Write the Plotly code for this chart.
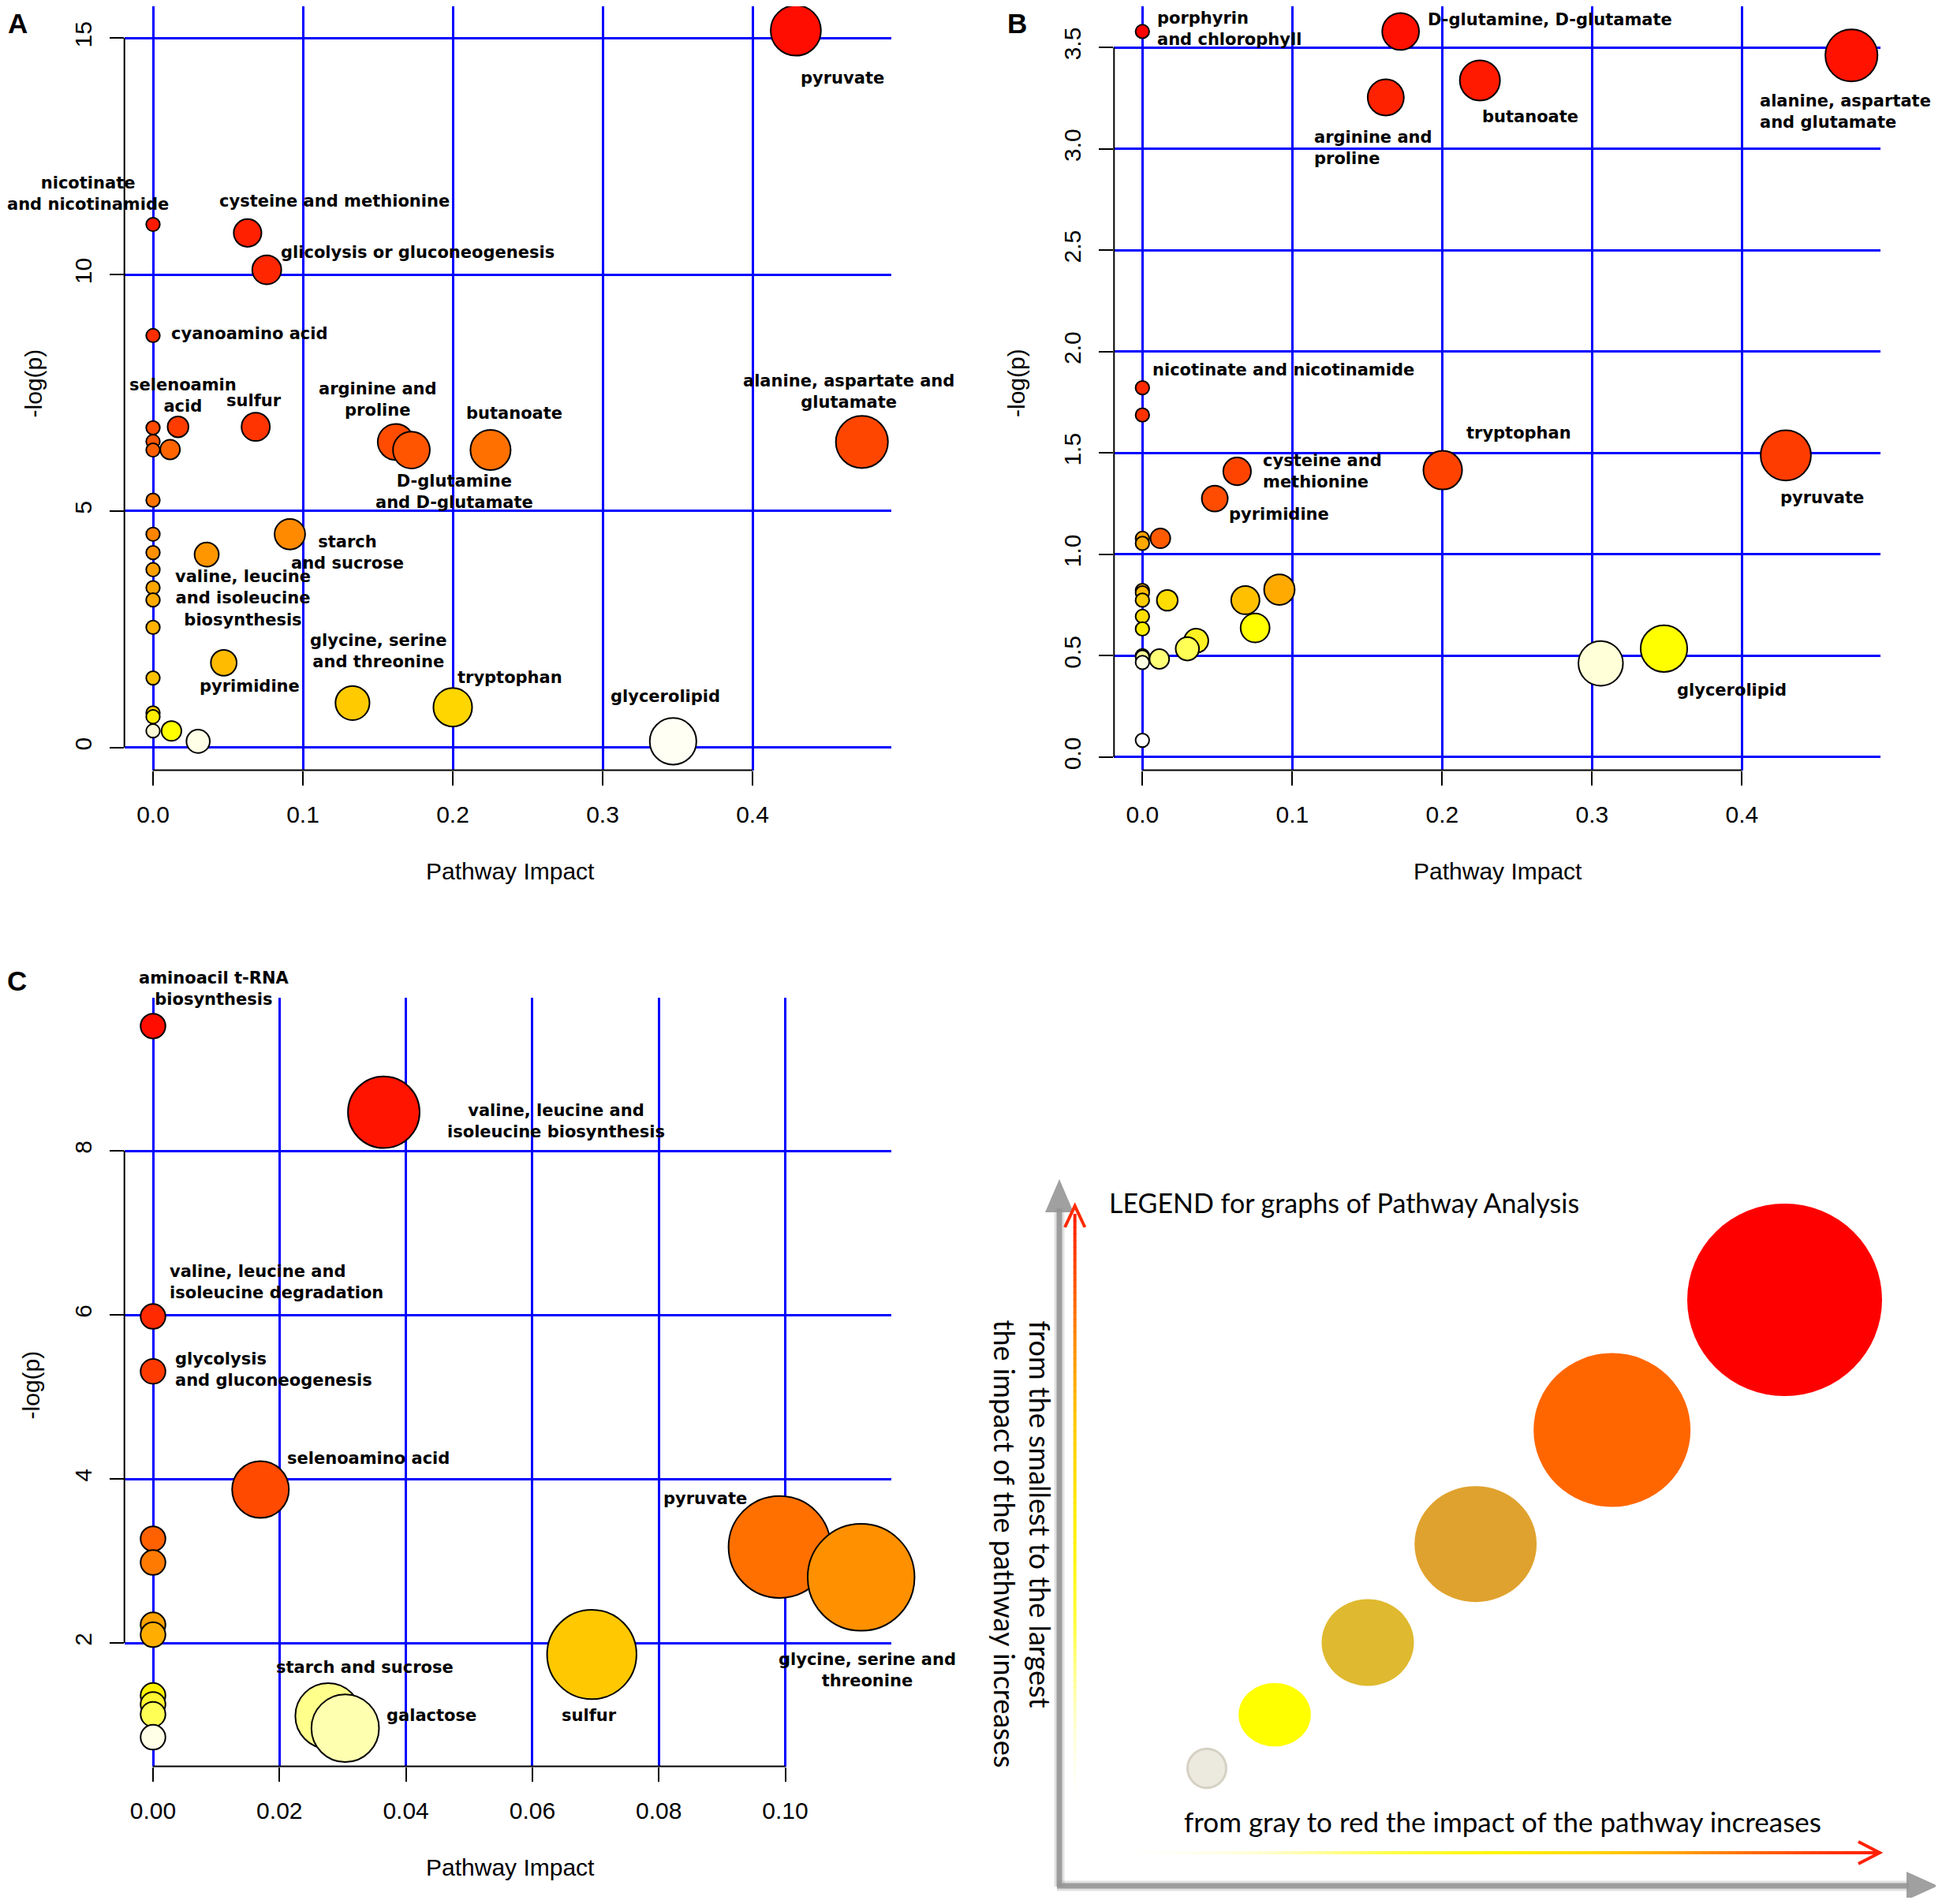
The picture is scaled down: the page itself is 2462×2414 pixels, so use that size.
import numpy as np
import plotly.graph_objects as go

W, H = 2462, 2414          # browser window
OFF = 8                    # default page body margin
FW, FH = W - OFF, H - 2 * OFF

# ---------------- Panel A data ----------------
A_impact = [0.4289, 0.0, 0.0631, 0.0759, 0.0, 0.0685, 0.0167, 0.0, 0.0, 0.1620, 0.4730,
            0.0, 0.0114, 0.1724, 0.2252, 0.0, 0.0, 0.0913, 0.0, 0.0358, 0.0, 0.0, 0.0, 0.0,
            0.0472, 0.0, 0.1331, 0.2000, 0.0, 0.0, 0.0, 0.0123, 0.0301, 0.3470]
A_logp = [15.16, 11.06, 10.88, 10.10, 8.71, 6.78, 6.78, 6.76, 6.47, 6.46, 6.46,
          6.29, 6.30, 6.29, 6.29, 5.23, 4.51, 4.51, 4.12, 4.08, 3.76, 3.38, 3.12, 2.54,
          1.79, 1.47, 0.94, 0.85, 0.73, 0.65, 0.35, 0.35, 0.13, 0.13]
A_labels = ["pyruvate", "nicotinate<br>and nicotinamide", "cysteine and methionine",
            "glicolysis or gluconeogenesis", "cyanoamino acid", "selenoamin<br>acid", "sulfur",
            "arginine and<br>proline", "butanoate", "alanine, aspartate and<br>glutamate",
            "D-glutamine<br>and D-glutamate", "starch<br>and sucrose",
            "valine, leucine<br>and isoleucine<br>biosynthesis", "glycine, serine<br>and threonine",
            "pyrimidine", "tryptophan", "glycerolipid"]

# ---------------- Panel B data ----------------
B_impact = [0.0, 0.1723, 0.4731, 0.2252, 0.1624, 0.0, 0.0, 0.4293, 0.2004, 0.0632, 0.0483,
            0.0, 0.0, 0.0120, 0.0914, 0.0, 0.0, 0.0687, 0.0, 0.0166, 0.0, 0.0, 0.0752,
            0.0359, 0.0300, 0.3480, 0.0, 0.0, 0.0113, 0.0, 0.3058, 0.0]
B_logp = [3.578, 3.578, 3.46, 3.337, 3.253, 1.821, 1.687, 1.488, 1.415, 1.409, 1.275,
          1.079, 1.054, 1.079, 0.826, 0.822, 0.81, 0.774, 0.774, 0.773, 0.694, 0.632, 0.637,
          0.574, 0.534, 0.535, 0.50, 0.493, 0.484, 0.467, 0.462, 0.083]
B_labels = ["porphyrin<br>and chlorophyll", "D-glutamine, D-glutamate", "butanoate",
            "alanine, aspartate<br>and glutamate", "arginine and<br>proline",
            "nicotinate and nicotinamide", "tryptophan", "cysteine and<br>methionine",
            "pyrimidine", "pyruvate", "glycerolipid"]

# ---------------- Panel C data ----------------
C_impact = [0.0, 0.0365, 0.0, 0.0, 0.0170, 0.0, 0.0, 0.0991, 0.1120, 0.0, 0.0, 0.0694,
            0.0, 0.0, 0.0, 0.0277, 0.0304, 0.0]
C_logp = [9.52, 8.47, 5.98, 5.31, 3.87, 3.27, 2.98, 3.17, 2.80, 2.22, 2.10, 1.86,
          1.36, 1.25, 1.13, 1.11, 0.96, 0.85]
C_labels = ["aminoacil t-RNA<br>biosynthesis", "valine, leucine and<br>isoleucine biosynthesis",
            "valine, leucine and<br>isoleucine degradation", "glycolysis<br>and gluconeogenesis",
            "selenoamino acid", "pyruvate", "glycine, serine and<br>threonine",
            "starch and sucrose", "galactose", "sulfur"]

# ---------------- tick labels ----------------
AB_xticks = [0.0, 0.1, 0.2, 0.3, 0.4]
AB_xtext = ["0.0", "0.1", "0.2", "0.3", "0.4"]
A_yticks = [0, 5, 10, 15]
A_ytext = ["0", "5", "10", "15"]
B_yticks = [0.0, 0.5, 1.0, 1.5, 2.0, 2.5, 3.0, 3.5]
B_ytext = ["0.0", "0.5", "1.0", "1.5", "2.0", "2.5", "3.0", "3.5"]
C_xticks = [0.0, 0.02, 0.04, 0.06, 0.08, 0.10]
C_xtext = ["0.00", "0.02", "0.04", "0.06", "0.08", "0.10"]
C_yticks = [2, 4, 6, 8]
C_ytext = ["2", "4", "6", "8"]

# ---------------- styles (colours, label placement) ----------------
A_colors = ["#FF0D00", "#FF1A00", "#FF2000", "#FF2600", "#FF2E00", "#FF3400", "#FF3C00", "#FF4A00",
            "#FF5500", "#FF4C00", "#FF4600", "#FF5E00", "#FF6400", "#FF5500", "#FF7000", "#FF7400",
            "#FF8400", "#FF8A00", "#FF9000", "#FF9600", "#FFA000", "#FFA600", "#FFAA00", "#FFB200",
            "#FFBB00", "#FFC200", "#FFCA00", "#FFD600", "#FFCC00", "#FFEE00", "#FFFAD6", "#FFFF00",
            "#FFFFE8", "#FFFFF4"]
B_colors = ["#FF0000", "#FF1000", "#FF1200", "#FF1A00", "#FF2200", "#FF2A00", "#FF3200", "#FF3C00",
            "#FF4200", "#FF4400", "#FF4C00", "#FFA000", "#FFA800", "#FF5A00", "#FFAA00", "#FFB400",
            "#FFBC00", "#FFC000", "#FFCC00", "#FFDD00", "#FFDD00", "#FFEE00", "#FFFF00", "#FFF222",
            "#FFFF55", "#FFFF00", "#FFFF80", "#FFFF99", "#FFFF77", "#FFFFE6", "#FFFFD8", "#FFFFFF"]
C_colors = ["#FF0D00", "#FF1400", "#FF2A00", "#FF3A00", "#FF4A00", "#FF6000", "#FF7A00", "#FF7000",
            "#FF9000", "#FFA200", "#FFAE00", "#FFC800", "#FFF000", "#FFF530", "#FFFF55", "#FFFF8C",
            "#FFFFB0", "#FFFFE8"]

# label placement: (x, y, anchor) in data units of each panel
A_lab_pos = [(0.4598, 14.16, "center"), (-0.0432, 11.71, "center"), (0.1208, 11.55, "center"),
             (0.1765, 10.47, "center"), (0.0643, 8.75, "center"), (0.0202, 7.44, "center"),
             (0.0672, 7.34, "center"), (0.1501, 7.36, "center"), (0.2412, 7.06, "center"),
             (0.4643, 7.53, "center"), (0.2008, 5.40, "center"), (0.1299, 4.13, "center"),
             (0.0598, 3.15, "center"), (0.1505, 2.03, "center"), (0.0643, 1.29, "center"),
             (0.2384, 1.48, "center"), (0.3419, 1.08, "center")]
B_lab_pos = [(0.0095, 3.59, "left"), (0.2719, 3.635, "center"), (0.2587, 3.158, "center"),
             (0.4116, 3.183, "left"), (0.1140, 3.006, "left"), (0.0942, 1.908, "center"),
             (0.2512, 1.597, "center"), (0.0798, 1.409, "left"), (0.0909, 1.199, "center"),
             (0.4537, 1.280, "center"), (0.3930, 0.331, "center")]
C_lab_pos = [(0.00958, 9.978, "center"), (0.0637, 8.358, "center"), (0.00244, 6.396, "left"),
             (0.00332, 5.328, "left"), (0.0340, 4.246, "center"), (0.0873, 3.761, "center"),
             (0.1130, 1.672, "center"), (0.0335, 1.701, "center"), (0.0440, 1.119, "center"),
             (0.0690, 1.119, "center")]

# ---------------- geometry (window pixels) ----------------
# per axis: (pixel, value) of two ticks, and the two plot edges in window pixels
GEOM = {
    "x":  dict(t=((194.0, 0.0), (954.0, 0.4)), e=(157.7, 1130.0)),
    "y":  dict(t=((947.7, 0.0), (48.3, 15.0)), e=(976.5, 4.0)),
    "x2": dict(t=((1448.3, 0.0), (2208.3, 0.4)), e=(1412.3, 2384.3)),
    "y2": dict(t=((959.9, 0.0), (60.0, 3.5)), e=(976.5, 4.0)),
    "x3": dict(t=((194.0, 0.0), (995.5, 0.10)), e=(157.7, 1130.0)),
    "y3": dict(t=((2083.0, 2.0), (1459.0, 8.0)), e=(2239.5, 1265.0)),
}


def axis_geom(name):
    g = GEOM[name]
    (p1, v1), (p2, v2) = g["t"]
    isx = name.startswith("x")
    lo_lim, hi_lim = (OFF, OFF + FW) if isx else (OFF, OFF + FH)
    e0, e1 = [min(max(e, lo_lim), hi_lim) for e in g["e"]]
    val = lambda p: v1 + (p - p1) * (v2 - v1) / (p2 - p1)
    rng = [val(e0), val(e1)]
    if isx:
        dom = [(e0 - OFF) / FW, (e1 - OFF) / FW]
    else:
        dom = [1 - (e0 - OFF) / FH, 1 - (e1 - OFF) / FH]
    ppu = abs((p2 - p1) / (v2 - v1))
    return dom, rng, ppu


BLUE = "#0000FF"
TICKFONT = dict(family="Liberation Sans", size=30, color="black")
LABFONT = dict(family="DejaVu Sans", size=21, color="black", weight="bold")

fig = go.Figure()

panels = [
    dict(x=A_impact, y=A_logp, c=A_colors, xa="x", ya="y", dmin=17.3, dspan=48.8),
    dict(x=B_impact, y=B_logp, c=B_colors, xa="x2", ya="y2", dmin=17.3, dspan=48.8),
    dict(x=C_impact, y=C_logp, c=C_colors, xa="x3", ya="y3", dmin=31.5, dspan=104.0),
]
for p in panels:
    imp = np.array(p["x"], dtype=float)
    s = np.sqrt(imp / imp.max())
    fig.add_trace(go.Scatter(
        x=p["x"], y=p["y"], mode="markers", xaxis=p["xa"], yaxis=p["ya"],
        marker=dict(size=p["dmin"] + p["dspan"] * s, sizemode="diameter", color=p["c"],
                    opacity=1, line=dict(color="black", width=2)),
        cliponaxis=False, hoverinfo="skip", showlegend=False))


def xaxis(name, tv, tt, anchor):
    dom, rng, _ = axis_geom(name)
    return dict(domain=dom, range=rng, tickvals=tv, ticktext=tt, showgrid=True,
                gridcolor=BLUE, gridwidth=2.5, zeroline=False, showline=False,
                ticks="outside", ticklen=18, tickwidth=2, tickcolor="black",
                tickfont=TICKFONT, anchor=anchor, ticklabelstandoff=11, fixedrange=True)


def yaxis(name, tv, tt, anchor):
    d = xaxis(name, tv, tt, anchor)
    d["tickangle"] = -90
    d["ticklabelstandoff"] = 11
    return d


annotations = []
shapes = []

# bubble labels (anchor clamped inside the axis range, remainder given as pixel shift)
for labels, pos, xa, ya in [(A_labels, A_lab_pos, "x", "y"), (B_labels, B_lab_pos, "x2", "y2"),
                            (C_labels, C_lab_pos, "x3", "y3")]:
    _, xr, xppu = axis_geom(xa)
    _, yr, yppu = axis_geom(ya)
    for t, (lx, ly, anc) in zip(labels, pos):
        cx = min(max(lx, min(xr)), max(xr))
        cy = min(max(ly, min(yr)), max(yr))
        annotations.append(dict(text=t, x=cx, y=cy, xref=xa, yref=ya, showarrow=False,
                                xshift=(lx - cx) * xppu, yshift=(ly - cy) * yppu,
                                xanchor=anc, yanchor="middle", align=anc,
                                font=LABFONT, borderpad=0))

# R-style axis lines spanning first to last tick
for xa, ya, ylo, yhi, xlo, xhi in [("x", "y", 0, 15, 0, 0.4), ("x2", "y2", 0, 3.5, 0, 0.4),
                                   ("x3", "y3", 2, 8, 0, 0.10)]:
    shapes.append(dict(type="line", xref=xa + " domain", yref=ya, x0=0, x1=0, y0=ylo, y1=yhi,
                       line=dict(color="black", width=2), layer="above"))
    shapes.append(dict(type="line", xref=xa, yref=ya + " domain", x0=xlo, x1=xhi, y0=0, y1=0,
                       line=dict(color="black", width=2), layer="above"))


def px(v):
    return (v - OFF) / FW


def py(v):
    return 1 - (v - OFF) / FH


AXFONT = dict(family="Liberation Sans", size=30, color="black")
for tx, ty, ang, txt in [(646.6, 1104, 0, "Pathway Impact"), (43.4, 486, -90, "-log(p)"),
                         (1899, 1104, 0, "Pathway Impact"), (1289, 486, -90, "-log(p)"),
                         (646.6, 2367, 0, "Pathway Impact"), (39.4, 1756, -90, "-log(p)")]:
    annotations.append(dict(text=txt, x=px(tx), y=py(ty), xref="paper", yref="paper",
                            showarrow=False, textangle=ang, font=AXFONT,
                            xanchor="center", yanchor="middle"))

for tx, ty, txt in [(22, 30, "A"), (1289, 30, "B"), (21, 1243, "C")]:
    annotations.append(dict(text=txt, x=px(tx), y=py(ty), xref="paper", yref="paper",
                            showarrow=False, font=dict(family="Liberation Sans", size=35,
                                                       color="black", weight="bold"),
                            xanchor="center", yanchor="middle", borderpad=0))

# ---------------- Legend panel ----------------
GRAY = "rgba(150,150,150,0.9)"
for w, col in [(13, "rgba(170,170,170,0.35)"), (7, GRAY)]:
    shapes.append(dict(type="line", xref="paper", yref="paper", x0=px(1343), x1=px(1343),
                       y0=py(2392), y1=py(1532), line=dict(color=col, width=w)))
    shapes.append(dict(type="line", xref="paper", yref="paper", x0=px(1340), x1=px(2420),
                       y0=py(2391), y1=py(2391), line=dict(color=col, width=w)))
shapes.append(dict(type="path", xref="paper", yref="paper",
                   path=f"M {px(1343)} {py(1495)} L {px(1325)} {py(1537)} L {px(1361)} {py(1537)} Z",
                   fillcolor=GRAY, line=dict(width=0)))
shapes.append(dict(type="path", xref="paper", yref="paper",
                   path=f"M {px(2457)} {py(2391)} L {px(2417)} {py(2373)} L {px(2417)} {py(2409)} Z",
                   fillcolor=GRAY, line=dict(width=0)))


def interp(stops, v):
    for (a, ca), (b, cb) in zip(stops[:-1], stops[1:]):
        if (a <= v <= b) or (b <= v <= a):
            t = (v - a) / (b - a) if b != a else 0
            c = [ca[i] + (cb[i] - ca[i]) * t for i in range(4)]
            return f"rgba({int(c[0])},{int(c[1])},{int(c[2])},{c[3]:.3f})"
    return None


vstops = [(2290, (255, 255, 230, 0.0)), (2180, (255, 255, 170, 0.6)), (2060, (255, 255, 60, 1)),
          (1930, (255, 240, 0, 1)), (1800, (255, 200, 0, 1)), (1700, (255, 140, 0, 1)),
          (1620, (255, 80, 0, 1)), (1540, (255, 30, 0, 1))]
N = 90
ys = np.linspace(2290, 1540, N + 1)
for i in range(N):
    c = interp(vstops, (ys[i] + ys[i + 1]) / 2)
    shapes.append(dict(type="line", xref="paper", yref="paper", x0=px(1362.7), x1=px(1362.7),
                       y0=py(ys[i]), y1=py(ys[i + 1] - 1), line=dict(color=c, width=4)))
shapes.append(dict(type="path", xref="paper", yref="paper",
                   path=f"M {px(1350)} {py(1556)} L {px(1362.7)} {py(1529)} L {px(1375.4)} {py(1556)}",
                   line=dict(color="#FF2A00", width=4)))

hstops = [(1427, (255, 255, 230, 0.0)), (1600, (255, 255, 180, 0.6)), (1750, (255, 255, 80, 1)),
          (1900, (255, 245, 0, 1)), (2020, (255, 215, 0, 1)), (2130, (255, 160, 0, 1)),
          (2230, (255, 100, 0, 1)), (2320, (255, 50, 0, 1)), (2382, (255, 30, 0, 1))]
xs = np.linspace(1427, 2380, N + 1)
for i in range(N):
    c = interp(hstops, (xs[i] + xs[i + 1]) / 2)
    shapes.append(dict(type="line", xref="paper", yref="paper", x0=px(xs[i]), x1=px(xs[i + 1] + 1),
                       y0=py(2349), y1=py(2349), line=dict(color=c, width=4)))
shapes.append(dict(type="path", xref="paper", yref="paper",
                   path=f"M {px(2356)} {py(2335)} L {px(2383)} {py(2349)} L {px(2356)} {py(2363)}",
                   line=dict(color="#FF2000", width=4)))

# legend ellipses: (cx, cy, rx, ry, fill, outline)
legend_ellipses = [
    (1530, 2242, 24.5, 24.7, "#ECE9DF", "#D5D1C3"),
    (1616, 2174, 45.8, 40.3, "#FFFF00", "#FFFF00"),
    (1734, 2082.5, 58.5, 55.0, "#DFB92F", "#DFB92F"),
    (1870.7, 1957.7, 77.4, 73.5, "#E0A22E", "#E0A22E"),
    (2043.7, 1813, 99.5, 97.5, "#FF6600", "#FF6600"),
    (2262.5, 1648, 123.5, 122.0, "#FF0000", "#FF0000"),
]
for cx, cy, rx, ry, fc, lc in legend_ellipses:
    shapes.append(dict(type="circle", xref="paper", yref="paper", x0=px(cx - rx), x1=px(cx + rx),
                       y0=py(cy + ry), y1=py(cy - ry), fillcolor=fc,
                       line=dict(color=lc, width=3 if lc != fc else 0)))

annotations.append(dict(text="LEGEND for graphs of Pathway Analysis", x=px(1403.7), y=py(1524),
                        xref="paper", yref="paper", showarrow=False, xanchor="left",
                        yanchor="middle", font=dict(family="Lato", size=34, color="black")))
annotations.append(dict(text="from gray to red the impact of the pathway increases", x=px(1904.6),
                        y=py(2308.7), xref="paper", yref="paper", showarrow=False,
                        xanchor="center", yanchor="middle",
                        font=dict(family="Lato", size=35, color="black")))
annotations.append(dict(text="from the smallest to the largest", x=px(1318.5), y=py(1920),
                        xref="paper", yref="paper", showarrow=False, textangle=90,
                        xanchor="center", yanchor="middle",
                        font=dict(family="Lato", size=36, color="black")))
annotations.append(dict(text="the impact of the pathway increases", x=px(1273.5), y=py(1957),
                        xref="paper", yref="paper", showarrow=False, textangle=90,
                        xanchor="center", yanchor="middle",
                        font=dict(family="Lato", size=36, color="black")))

fig.update_layout(
    width=FW, height=FH, margin=dict(l=0, r=0, t=0, b=0), autosize=False,
    paper_bgcolor="white", plot_bgcolor="white", showlegend=False,
    xaxis=xaxis("x", AB_xticks, AB_xtext, "y"),
    yaxis=yaxis("y", A_yticks, A_ytext, "x"),
    xaxis2=xaxis("x2", AB_xticks, AB_xtext, "y2"),
    yaxis2=yaxis("y2", B_yticks, B_ytext, "x2"),
    xaxis3=xaxis("x3", C_xticks, C_xtext, "y3"),
    yaxis3=yaxis("y3", C_yticks, C_ytext, "x3"),
    annotations=annotations, shapes=shapes,
)

fig.write_html("out.html")
